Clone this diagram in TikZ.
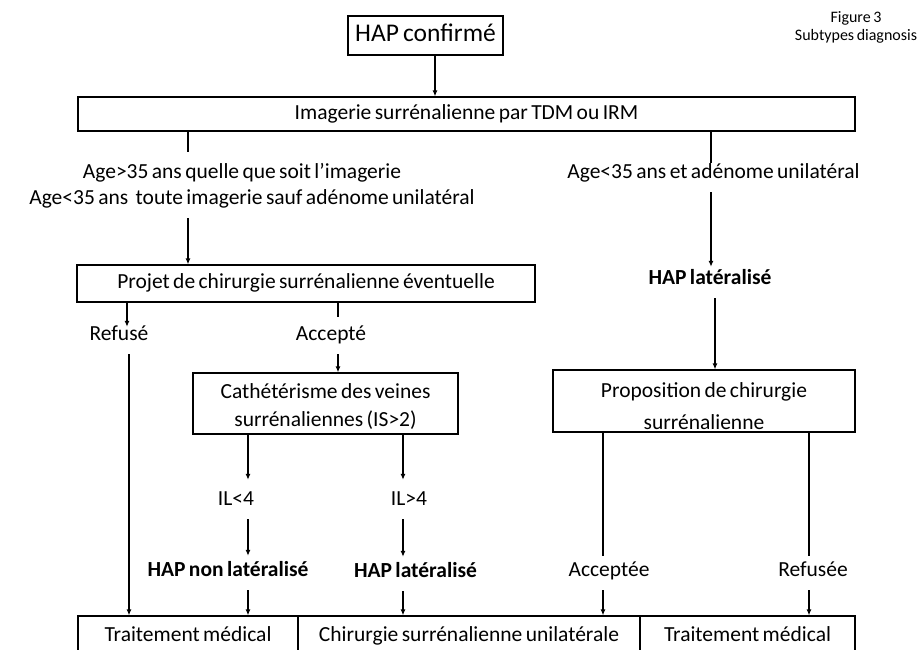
\documentclass[tikz,border=0pt]{standalone}
\usepackage{fontspec}
\setmainfont{Carlito}[WordSpace=0.7]
\usetikzlibrary{arrows.meta}
\newcommand{\lowerby}[2]{\raisebox{-#1}[\height][\depth]{#2}}
\begin{document}
\begin{tikzpicture}[x=1pt,y=-1pt,
  every node/.style={font=\fontsize{21.5}{26}\selectfont, text=black},
  box/.style={draw, line width=1.2pt, inner sep=0pt, align=center},
  onebox/.style={box, text height=15pt, text depth=5pt},
  lbl/.style={inner xsep=0pt, inner ysep=4pt, text height=16pt, text depth=10pt, anchor=base},
  blbl/.style={lbl, font=\fontsize{21.5}{26}\selectfont\bfseries},
  arr/.style={line width=1.2pt, -{Latex[length=6pt,width=5pt]}},
  ln/.style={line width=1.2pt},
]
\useasboundingbox (0,0) rectangle (920,649);
\fill[white] (0,0) rectangle (920,649);
\clip (0,0) rectangle (920,649);

% x positions of connectors
\coordinate (xA) at (435,0);
\coordinate (xL) at (188,0);
\coordinate (xR) at (711,0);
\coordinate (xR2) at (715,0);
\coordinate (xRf) at (127,0);
\coordinate (xRf2) at (129,0);
\coordinate (xAc) at (338,0);
\coordinate (xI1) at (248,0);
\coordinate (xI2) at (403,0);
\coordinate (xP1) at (603,0);
\coordinate (xP2) at (809,0);

% title
\node[font=\fontsize{16}{18}\selectfont, align=center] (fig) at (856,27) {Figure 3\\Subtypes diagnosis};

% boxes
\node[box, font=\fontsize{25.5}{30}\selectfont, text height=17pt, text depth=5pt,
      minimum width=155pt, minimum height=39pt] (conf) at (425.5,35.5) {HAP confirmé};
\node[onebox, minimum width=777pt, minimum height=34pt] (img) at (466.5,114)
      {Imagerie surrénalienne par TDM ou IRM};
\node[onebox, minimum width=458pt, minimum height=37pt] (projet) at (306,283.5)
      {Projet de chirurgie surrénalienne éventuelle};
\node[box, font=\fontsize{21.5}{27.7}\selectfont, minimum width=265pt, minimum height=61pt]
      (cath) at (325.5,403.5) {\lowerby{3pt}{Cathétérisme des veines}\\\lowerby{3pt}{surrénaliennes (IS>2)}};
\node[box, font=\fontsize{21.5}{31.5}\selectfont, minimum width=302pt, minimum height=62pt]
      (prop) at (704,401) {\lowerby{5pt}{Proposition de chirurgie}\\\lowerby{5pt}{surrénalienne}};
\node[onebox, minimum width=220pt, minimum height=40pt] (tm1) at (188,636) {Traitement médical};
\node[onebox, minimum width=342pt, minimum height=40pt] (chir) at (469,636) {Chirurgie surrénalienne unilatérale};
\node[onebox, minimum width=215pt, minimum height=40pt] (tm2) at (747.5,636) {Traitement médical};

% labels
\node[lbl] (age1) at (242,178) {Age>35 ans quelle que soit l’imagerie};
\node[lbl] (age2) at (252,204) {Age<35 ans\hspace{4pt} toute imagerie sauf adénome unilatéral};
\node[lbl] (age3) at (713.5,178) {Age<35 ans et adénome unilatéral};
\node[blbl] (latR) at (710,284) {HAP latéralisé};
\node[lbl] (refuse) at (119,340) {Refusé};
\node[lbl] (accepte) at (331,340) {Accepté};
\node[lbl] (il1) at (236,505) {IL<4};
\node[lbl] (il2) at (409,505) {IL>4};
\node[blbl] (hnl) at (228,576) {HAP non latéralisé};
\node[blbl] (hl2) at (415.5,577) {HAP latéralisé};
\node[lbl] (acc2) at (609,576) {Acceptée};
\node[lbl] (ref2) at (813,576) {Refusée};

% connectors
\draw[arr] (conf.south -| xA) -- (img.north -| xA);
\draw[ln, shorten >=6pt] (img.south -| xL) -- (age1.north -| xL);
\draw[arr] (age2.south -| xL) -- (projet.north -| xL);
\draw[ln, shorten >=-5pt] (img.south -| xR) -- (age3.north -| xR);
\draw[arr, shorten >=-3pt] (age3.south -| xR) -- (latR.north -| xR);
\draw[arr] (latR.south -| xR2) -- (prop.north -| xR2);
\draw[arr, shorten >=-7pt] (projet.south -| xRf) -- (refuse.north -| xRf);
\draw[arr] (refuse.south -| xRf2) -- (tm1.north -| xRf2);
\draw[ln, shorten >=3pt] (projet.south -| xAc) -- (accepte.north -| xAc);
\draw[arr] (accepte.south -| xAc) -- (cath.north -| xAc);
\draw[arr, shorten >=5pt] (cath.south -| xI1) -- (il1.north -| xI1);
\draw[arr, shorten >=5pt] (cath.south -| xI2) -- (il2.north -| xI2);
\draw[arr] (il1.south -| xI1) -- (hnl.north -| xI1);
\draw[arr] (il2.south -| xI2) -- (hl2.north -| xI2);
\draw[arr] (hnl.south -| xI1) -- (tm1.north -| xI1);
\draw[arr] (hl2.south -| xI2) -- (chir.north -| xI2);
\draw[ln] (prop.south -| xP1) -- (acc2.north -| xP1);
\draw[arr] (acc2.south -| xP1) -- (chir.north -| xP1);
\draw[ln] (prop.south -| xP2) -- (ref2.north -| xP2);
\draw[arr] (ref2.south -| xP2) -- (tm2.north -| xP2);
\end{tikzpicture}
\end{document}
